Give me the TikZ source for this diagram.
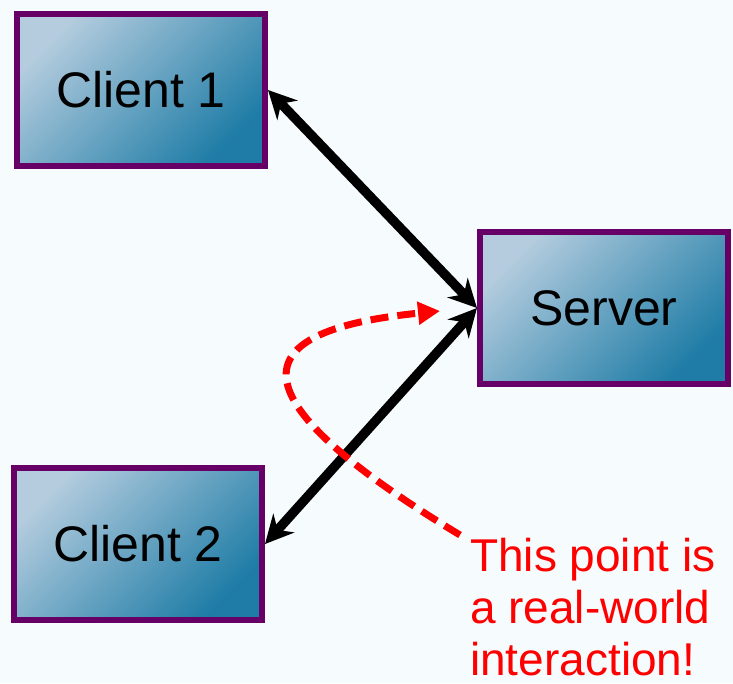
\documentclass[tikz,border=0pt]{standalone}
\usepackage{fontspec}
\setmainfont{Liberation Sans}
\usetikzlibrary{arrows.meta,shadows}
\definecolor{boxedge}{RGB}{102,0,102}
\definecolor{boxlight}{RGB}{180,204,222}
\definecolor{boxdark}{RGB}{30,124,166}
\definecolor{backdrop}{RGB}{246,251,253}

\begin{document}
\begin{tikzpicture}[x=1pt,y=-1pt,
  box/.style={draw=boxedge, line width=6pt, minimum width=248pt, minimum height=152pt,
    inner sep=0pt, top color=boxlight, bottom color=boxdark, shading angle=45,
    drop shadow={opacity=0.3, shadow xshift=2pt, shadow yshift=-3pt},
    font=\fontsize{50}{60}\selectfont},
  link/.style={line width=9.5pt, {Stealth[length=28pt,width=28pt]}-{Stealth[length=28pt,width=28pt]}},
  note/.style={red, line width=7pt, dash pattern=on 18pt off 9pt, -{Triangle[length=22pt,width=22pt]}}]
\useasboundingbox (0,0) rectangle (733,683);
\fill[backdrop] (0,0) rectangle (733,683);
\node (client1) [box] at (141,90) {Client 1};
\node (server) [box] at (604,308) {Server};
\node (client2) [box] at (138,544) {Client 2};
\node (remark) [anchor=north west, inner sep=0pt, align=left, text=red,
  font=\fontsize{46}{52}\selectfont] at (470,538) {This point is\\a real-world\\interaction!};
\coordinate (meet) at (440,311);
\draw[link] (client1.east) -- (server.west);
\draw[link] (client2.east) -- (server.west);
\draw[note] ([shift={(-10,-3)}]remark.north west) .. controls (220,390) and (250,330) .. (meet);
\end{tikzpicture}
\end{document}
